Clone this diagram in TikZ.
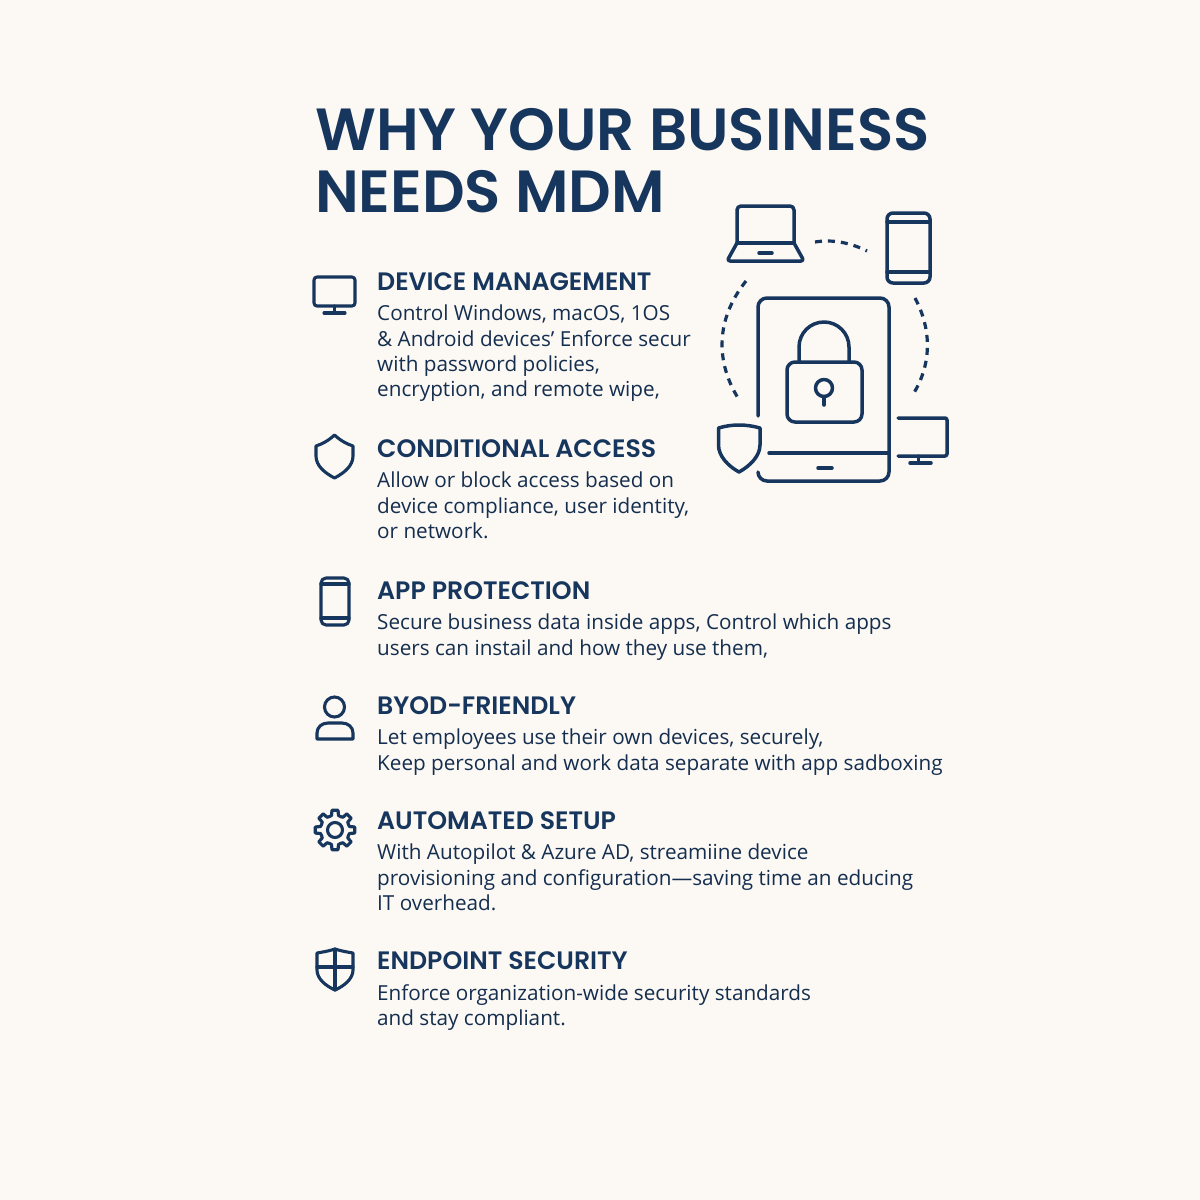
\documentclass[tikz,border=0pt]{standalone}
\usepackage{fontspec}
\setmainfont{Open Sans}
\newfontfamily\titlefont{Poppins SemiBold}
\definecolor{paper}{HTML}{FCF8F3}
\definecolor{navy}{HTML}{17365D}
\tikzset{
  iconline/.style={draw=navy, line width=3.5pt, line join=round, line cap=round},
  thinline/.style={draw=navy, line width=3.1pt, line join=round, line cap=round},
  dotline/.style={draw=navy, line width=3.2pt, dash pattern=on 7pt off 6pt},
  headline/.style={anchor=base west, inner sep=0pt, text=navy, font=\titlefont\fontsize{59.5}{63}\selectfont},
  itemhead/.style={anchor=base west, inner sep=0pt, text=navy, font=\titlefont\fontsize{25.2}{28}\selectfont},
  itembody/.style={anchor=north west, inner sep=0pt, align=left, text=navy!85!black, font=\fontsize{20.7}{25.3}\selectfont},
}
\begin{document}
\begin{tikzpicture}[x=1pt, y=-1pt]
  \fill[paper] (0,0) rectangle (1200,1200);
  \useasboundingbox (0,0) rectangle (1200,1200);

  % title
  \node[headline] (title1) at (315,150) {WHY YOUR BUSINESS};
  \node[headline] (title2) at (315,212) {NEEDS MDM};

  % items
  \node[itemhead] (devhead) at (377,290) {DEVICE MANAGEMENT};
  \node[itembody] (devbody) at (377,305) {Control Windows, macOS, 1OS\\\& Android devices' Enforce secur\\with password policies,\\encryption, and remote wipe,};
  \node[itemhead] (condhead) at (377,457) {CONDITIONAL ACCESS};
  \node[itembody] (condbody) at (377,472) {Allow or block access based on\\device compliance, user identity,\\or network.};
  \node[itemhead] (apphead) at (377,599) {APP PROTECTION};
  \node[itembody] (appbody) at (377,614) {Secure business data inside apps, Control which apps\\users can instail and how they use them,};
  \node[itemhead] (byodhead) at (377,714) {BYOD-FRIENDLY};
  \node[itembody] (byodbody) at (377,729) {Let employees use their own devices, securely,\\Keep personal and work data separate with app sadboxing};
  \node[itemhead] (autohead) at (377,829) {AUTOMATED SETUP};
  \node[itembody] (autobody) at (377,844) {With Autopilot \& Azure AD, streamiine device\\provisioning and configuration---saving time an educing\\IT overhead.};
  \node[itemhead] (endhead) at (377,969) {ENDPOINT SECURITY};
  \node[itembody] (endbody) at (377,984) {Enforce organization-wide security standards\\and stay compliant.};

  % item icons
  \draw[thinline, rounded corners=3pt] (314,277) rectangle (355,306);
  \draw[thinline] (334.5,306) -- (334.5,313) (324,313) -- (345,313);
  \draw[thinline] (334.5,435) .. controls (328,441) and (322,444) .. (316,446) -- (316,456) .. controls (316,466) and (325,473) .. (334.5,478) .. controls (344,473) and (353,466) .. (353,456) -- (353,446) .. controls (347,444) and (341,441) .. (334.5,435) -- cycle;
  \draw[thinline, rounded corners=5pt] (321,578) rectangle (349,625);
  \draw[thinline] (321,584) -- (349,584) (321,618) -- (349,618);
  \draw[thinline] (334.5,707) circle (10);
  \draw[thinline] (317,739) -- (317,733) .. controls (317,727) and (322,723) .. (328,723) -- (342,723) .. controls (348,723) and (353,727) .. (353,733) -- (353,739) -- cycle;
  \draw[thinline] (335,830) circle (7.5);
  \foreach \a in {0,45,...,315} {
    \draw[thinline, shift={(335,830)}] (\a-22.5:14.5) -- (\a-13:15) -- (\a-9:20) -- (\a+9:20) -- (\a+13:15) -- (\a+22.5:14.5);
  }
  \draw[thinline] (335,949) .. controls (329,951) and (323,952) .. (317,953) -- (317,970) .. controls (317,979) and (326,986) .. (335,990) .. controls (344,986) and (353,979) .. (353,970) -- (353,953) .. controls (347,952) and (341,951) .. (335,949) -- cycle;
  \draw[thinline] (335,949) -- (335,990) (317,967) -- (353,967);

  % laptop
  \draw[iconline, rounded corners=4pt] (737,243) -- (737,206) -- (794,206) -- (794,243);
  \draw[iconline] (737,243) -- (794,243);
  \draw[iconline, rounded corners=3pt] (737,243) -- (727,261) -- (804,261) -- (794,243);
  \draw[iconline] (759,253) -- (772,253);

  % phone
  \draw[iconline, rounded corners=6pt] (887,213) rectangle (930,283);
  \draw[iconline] (887,222) -- (930,222) (887,272) -- (930,272);

  % dashed arcs
  \draw[dotline] (815,242) .. controls (833,239) and (851,243) .. (867,251);
  \draw[dotline] (746,281) .. controls (715,320) and (716,362) .. (738,398);
  \draw[dotline] (915,298) .. controls (932,330) and (932,365) .. (912,396);

  % tablet
  \draw[iconline, rounded corners=9pt] (758,416) -- (758,298) -- (889,298) -- (889,481) -- (758,481) -- (758,472);
  \draw[iconline] (769,453) -- (889,453);
  \draw[iconline] (818,468) -- (832,468);

  % padlock
  \draw[iconline, rounded corners=8pt] (787,362) rectangle (862,422);
  \draw[iconline] (799,362) -- (799,347) arc[start angle=180, end angle=360, radius=25] -- (849,362);
  \draw[iconline] (824,388) circle (8.5);
  \draw[iconline] (824,396.5) -- (824,405);

  % shield and monitor
  \draw[iconline] (718.5,428) .. controls (732,424) and (746,424) .. (760,428) -- (760,445) .. controls (760,456) and (750,466) .. (739,472) .. controls (728,466) and (718.5,456) .. (718.5,445) -- cycle;
  \draw[iconline, rounded corners=2pt] (898,418) -- (947,418) -- (947,456) -- (898,456);
  \draw[iconline] (918.5,456) -- (918.5,463) (910,463) -- (931,463);
\end{tikzpicture}
\end{document}
